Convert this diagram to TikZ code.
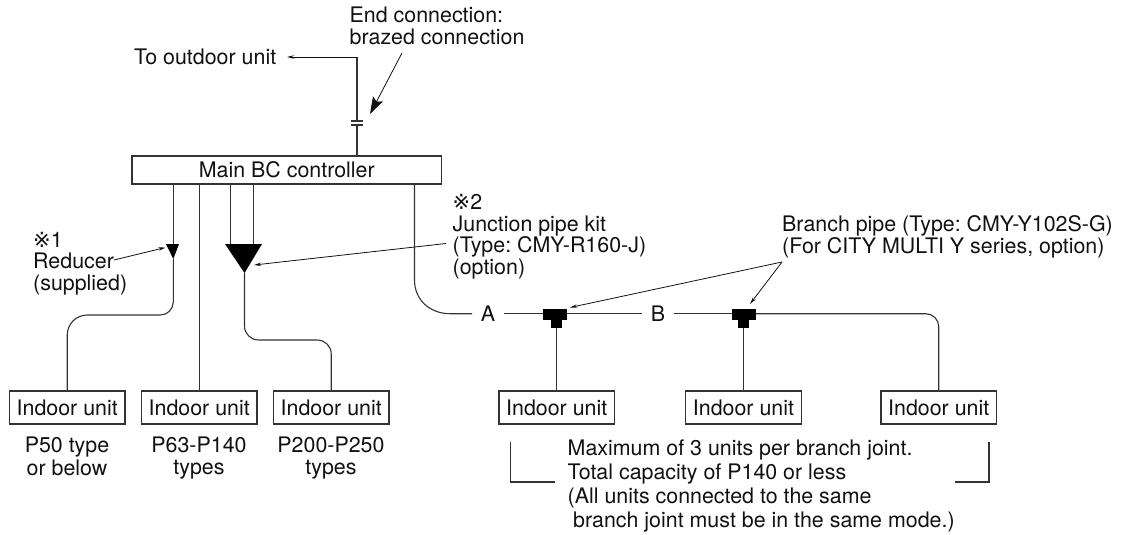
\documentclass[tikz,border=0pt]{standalone}
\usepackage{fontspec}
\setmainfont{TeX Gyre Heros}
\newfontfamily\markfont{DejaVu Sans}
\usetikzlibrary{arrows.meta,calc}
\definecolor{ink}{HTML}{111111}
\definecolor{pipe}{HTML}{333333}
\newcommand{\kome}{{\markfont\fontsize{21}{21}\selectfont ※}}
\tikzset{
  pipeline/.style={draw=pipe,line width=1.1pt},
  leader/.style={draw=ink,line width=.8pt,-{Stealth[length=7pt,width=3.4pt]}},
  unitbox/.style={draw=pipe,line width=1.1pt,minimum width=115.5pt,minimum height=33pt,inner sep=0pt},
  note/.style={inner sep=0pt,anchor=west,align=left},
  caption/.style={inner sep=0pt,align=center},
  fitting/.style={fill=black,inner sep=0pt},
}
\begin{document}
\frenchspacing
\begin{tikzpicture}[x=1pt,y=-1pt,font=\fontsize{21.4}{21.5}\selectfont,text=ink,>=Latex]
  \useasboundingbox (0,0) rectangle (1124,535);

  % controller and the line to the outdoor unit
  \node[draw=pipe,line width=1.1pt,minimum width=309.5pt,minimum height=28pt,inner sep=0pt] (mainbc) at (286.75,170) {Main BC controller};
  \node[note] (outdoor) at (134,57) {To outdoor unit};
  \node[note] (endconn) at (349.5,26) {End connection:\\brazed connection};
  \coordinate (elbow) at (357,57);
  \coordinate (flangeup) at (357,121);
  \coordinate (flangedn) at (357,125);
  \coordinate (endtip) at (370,114);
  \coordinate (endfrom) at (402,53);
  \draw[pipeline] (flangeup) -- (elbow);
  \draw[leader] (elbow) -- (287,57);
  \draw[pipeline] (flangedn) -- (flangedn |- mainbc.north);
  \draw[pipeline] ($(flangeup)+(-6,0)$) -- ($(flangeup)+(6,0)$);
  \draw[pipeline] ($(flangedn)+(-6,0)$) -- ($(flangedn)+(6,0)$);
  \draw[draw=ink,line width=.8pt,-{Stealth[length=17pt,width=11pt,inset=3pt]}] (endfrom) -- (endtip);

  % indoor units
  \foreach \name/\x in {unitA/67.25,unitB/199.25,unitC/331.25,unitD/556.75,unitE/743.5,unitF/938.75}{
    \node[unitbox] (\name) at (\x,407.5) {Indoor unit};
  }
  \node[caption] (capA) at (67,459) {\strut P50 type\\\strut or below};
  \node[caption] (capB) at (199,459) {\strut P63-P140\\\strut types};
  \node[caption] (capC) at (331,459) {\strut P200-P250\\\strut types};

  % reducer
  \coordinate (tapA) at (173.3,184);
  \coordinate (reducertop) at (173.3,244);
  \coordinate (reducertip) at (173.3,259);
  \fill[black] (166,244) -- (179,244) -- (reducertip) -- cycle;
  \draw[pipeline] (tapA) -- (reducertop);
  \draw[pipeline,rounded corners=13pt] (reducertip) -- (173.3,315) [rounded corners=20pt] -- (67.25,315) -- (unitA.north);
  \draw[pipeline] (unitB.north |- mainbc.south) -- (unitB.north);
  \node[note] (reducer) at (33,263.5) {\kome 1\\Reducer\\(supplied)};
  \coordinate (reducerfrom) at (114,260);
  \draw[leader] (reducerfrom) -- (165.5,247.5);

  % junction pipe kit
  \coordinate (tapB) at (230.3,184);
  \coordinate (tapC) at (253.5,184);
  \coordinate (kittip) at (244.5,273);
  \fill[black] (225,244) -- (262,244) -- (kittip) -- cycle;
  \draw[pipeline] (tapB) -- (230.3,244);
  \draw[pipeline] (tapC) -- (253.5,244);
  \draw[pipeline,rounded corners=14pt] (kittip) -- (244.5,340) -- (331.25,340) -- (unitC.north);
  \node[note] (kit) at (452.5,236.5) {\kome 2\\Junction pipe kit\\(Type: CMY-R160-J)\\(option)};
  \coordinate (kitfrom) at (446,243.5);
  \draw[leader] (kitfrom) -- (254,265);

  % branch line
  \node[inner xsep=8.5pt,inner ysep=0pt] (labelA) at (488,313.7) {A};
  \node[inner xsep=9pt,inner ysep=0pt] (labelB) at (658,313.7) {B};
  \node[fitting,minimum width=24pt,minimum height=11pt] (teeA) at (555,314.5) {};
  \node[fitting,minimum width=11pt,minimum height=8.5pt] (stemA) at (556.75,324) {};
  \node[fitting,minimum width=24pt,minimum height=11pt] (teeB) at (744,314.5) {};
  \node[fitting,minimum width=11pt,minimum height=8.5pt] (stemB) at (743.5,324) {};
  \draw[pipeline] (414.5,184) -- (414.5,280) .. controls (414.5,300) and (430,313.7) .. (450,313.7) -- (labelA.west);
  \draw[pipeline] (labelA.east) -- (teeA.west |- labelA.east);
  \draw[pipeline] (teeA.east |- labelB.west) -- (labelB.west);
  \draw[pipeline] (labelB.east) -- (teeB.west |- labelB.east);
  \draw[pipeline,rounded corners=13pt] (teeB.east |- labelB.east) -- (938.75,313.7) -- (unitF.north);
  \draw[pipeline] (stemA.south) -- (unitD.north);
  \draw[pipeline] (stemB.south) -- (unitE.north);

  \node[note] (branch) at (782,237) {Branch pipe (Type: CMY-Y102S-G)\\(For CITY MULTI Y series, option)};
  \coordinate (branchfrom) at (782,262);
  \draw[leader] (branchfrom) -- (570,307.5);
  \draw[leader] (branchfrom) -- (750,304);

  % note under the units
  \node[note,font=\fontsize{21.4}{23.9}\selectfont] (limits) at (567.5,486) {Maximum of 3 units per branch joint.\\Total capacity of P140 or less\\(All units connected to the same\\\hspace*{5.5pt}branch joint must be in the same mode.)};
  \draw[pipeline] (510.7,442) -- (510.7,482) -- (555,482);
  \draw[pipeline] (989,442) -- (989,482) -- (955,482);
\end{tikzpicture}
\end{document}
